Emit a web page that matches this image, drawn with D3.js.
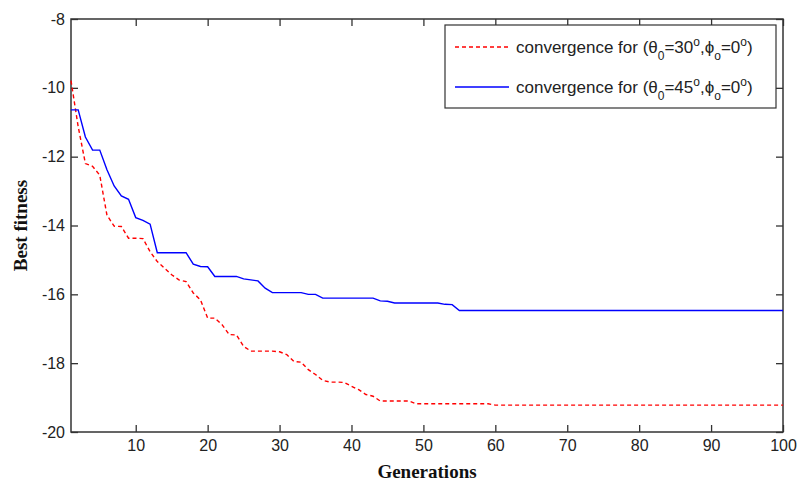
<!DOCTYPE html>
<html>
<head>
<meta charset="utf-8">
<script src="https://cdn.jsdelivr.net/npm/d3@7"></script>
<style>
  body { margin: 0; background: #fff; }
  svg { display: block; }
</style>
</head>
<body>
<svg id="chart" width="798" height="481"></svg>
<script>
// generation index 1..100 (x axis)
var generations = d3.range(1, 101)

// best fitness per generation, theta0 = 30 deg (red dashed)
var fit30 = [
  -9.79, -11.13, -12.20, -12.28, -12.54, -13.70, -14.02, -14.03, -14.37, -14.37,
  -14.38, -14.76, -15.05, -15.24, -15.43, -15.58, -15.63, -15.96, -16.16, -16.69,
  -16.69, -16.88, -17.17, -17.18, -17.51, -17.65, -17.65, -17.65, -17.65, -17.67,
  -17.75, -17.95, -17.97, -18.19, -18.33, -18.50, -18.55, -18.55, -18.56, -18.67,
  -18.77, -18.91, -18.96, -19.10, -19.10, -19.10, -19.10, -19.10, -19.18, -19.18,
  -19.18, -19.18, -19.18, -19.18, -19.18, -19.18, -19.18, -19.18, -19.18, -19.22,
  -19.22, -19.22, -19.22, -19.22, -19.22, -19.22, -19.22, -19.22, -19.22, -19.22,
  -19.22, -19.22, -19.22, -19.22, -19.22, -19.22, -19.22, -19.22, -19.22, -19.22,
  -19.22, -19.22, -19.22, -19.22, -19.22, -19.22, -19.22, -19.22, -19.22, -19.22,
  -19.22, -19.22, -19.22, -19.22, -19.22, -19.22, -19.22, -19.22, -19.22, -19.22
]

// best fitness per generation, theta0 = 45 deg (blue solid)
var fit45 = [
  -10.64, -10.64, -11.43, -11.81, -11.81, -12.38, -12.85, -13.14, -13.24, -13.77,
  -13.85, -13.96, -14.79, -14.79, -14.79, -14.79, -14.79, -15.12, -15.19, -15.20,
  -15.48, -15.48, -15.48, -15.48, -15.55, -15.58, -15.61, -15.82, -15.95, -15.95,
  -15.95, -15.95, -15.95, -16.00, -16.00, -16.11, -16.11, -16.11, -16.11, -16.11,
  -16.11, -16.11, -16.11, -16.19, -16.20, -16.25, -16.25, -16.25, -16.25, -16.25,
  -16.25, -16.25, -16.29, -16.30, -16.47, -16.47, -16.47, -16.47, -16.47, -16.47,
  -16.47, -16.47, -16.47, -16.47, -16.47, -16.47, -16.47, -16.47, -16.47, -16.47,
  -16.47, -16.47, -16.47, -16.47, -16.47, -16.47, -16.47, -16.47, -16.47, -16.47,
  -16.47, -16.47, -16.47, -16.47, -16.47, -16.47, -16.47, -16.47, -16.47, -16.47,
  -16.47, -16.47, -16.47, -16.47, -16.47, -16.47, -16.47, -16.47, -16.47, -16.47
]

var xTicks = [10, 20, 30, 40, 50, 60, 70, 80, 90, 100]
var yTicks = [-20, -18, -16, -14, -12, -10, -8]

var legendLabels = [
  {theta: "30", phi: "0", color: "#ff0000", dash: "4,3"},
  {theta: "45", phi: "0", color: "#0000ff", dash: null}
]

var svg = d3.select('#chart')
//plot box in px (note: 'top' is a reserved window global, so use a prefix)
var pL = 71, pR = 783, pT = 19, pB = 432
var axisColor = '#333'
var sans = '"Liberation Sans", Arial, sans-serif'
var serif = '"Liberation Serif", "Times New Roman", serif'

var x = d3.scaleLinear().domain([1, 100]).range([pL, pR])
var y = d3.scaleLinear().domain([-20, -8]).range([pB, pT])
var plain = function(d) { return String(d) } //ascii hyphen like matlab, not U+2212

svg.append('rect').attr('width', 798).attr('height', 481).attr('fill', '#fff')

//MATLAB style box: inward ticks on all four sides, labels only bottom/left
function styleAxis(g, labels) {
  g.select('.domain').remove()
  g.selectAll('.tick line').attr('stroke', axisColor).attr('stroke-width', 1.3)
  g.selectAll('.tick text')
    .attr('fill', '#222')
    .style('font-family', sans)
    .style('font-size', '16px')
  if (!labels) g.selectAll('.tick text').remove()
}

svg.append('g').attr('transform', 'translate(0,' + pB + ')')
  .call(d3.axisBottom(x).tickValues(xTicks).tickFormat(plain)
    .tickSizeInner(-7).tickSizeOuter(0).tickPadding(8))
  .call(styleAxis, true)
svg.append('g').attr('transform', 'translate(0,' + pT + ')')
  .call(d3.axisTop(x).tickValues(xTicks).tickSizeInner(-7).tickSizeOuter(0))
  .call(styleAxis, false)
svg.append('g').attr('transform', 'translate(' + pL + ',0)')
  .call(d3.axisLeft(y).tickValues(yTicks).tickFormat(plain)
    .tickSizeInner(-7).tickSizeOuter(0).tickPadding(6))
  .call(styleAxis, true)
svg.append('g').attr('transform', 'translate(' + pR + ',0)')
  .call(d3.axisRight(y).tickValues(yTicks).tickSizeInner(-7).tickSizeOuter(0))
  .call(styleAxis, false)

svg.append('rect')
  .attr('x', pL).attr('y', pT)
  .attr('width', pR - pL).attr('height', pB - pT)
  .attr('fill', 'none').attr('stroke', axisColor).attr('stroke-width', 1.5)

var line = d3.line()
  .x(function(d, i) { return x(generations[i]) })
  .y(function(d) { return y(d) })

svg.append('path').datum(fit30)
  .attr('d', line).attr('fill', 'none')
  .attr('stroke', '#ff0000').attr('stroke-width', 1.4)
  .attr('stroke-dasharray', '4,3')
svg.append('path').datum(fit45)
  .attr('d', line).attr('fill', 'none')
  .attr('stroke', '#0000ff').attr('stroke-width', 1.4)

// axis titles
svg.append('text')
  .attr('x', (pL + pR) / 2).attr('y', 478)
  .attr('text-anchor', 'middle')
  .style('font-family', serif).style('font-size', '19px').style('font-weight', 'bold')
  .attr('fill', '#111')
  .text('Generations')
svg.append('text')
  .attr('transform', 'translate(27,' + (pT + pB) / 2 + ') rotate(-90)')
  .attr('text-anchor', 'middle')
  .style('font-family', serif).style('font-size', '19px').style('font-weight', 'bold')
  .attr('fill', '#111')
  .text('Best fitness')

// legend
var lg = svg.append('g')
lg.append('rect')
  .attr('x', 445).attr('y', 25).attr('width', 331).attr('height', 83)
  .attr('fill', '#fff').attr('stroke', axisColor).attr('stroke-width', 1.2)

legendLabels.forEach(function(l, i) {
  var ly = 47 + i * 40
  lg.append('line')
    .attr('x1', 455).attr('x2', 509).attr('y1', ly).attr('y2', ly)
    .attr('stroke', l.color).attr('stroke-width', 1.4)
    .attr('stroke-dasharray', l.dash)
  var t = lg.append('text')
    .attr('x', 516).attr('y', ly + 6)
    .attr('fill', '#222')
    .style('font-family', sans).style('font-size', '17px')
  t.append('tspan').text('convergence for (\u03b8')
  t.append('tspan').attr('dy', 7).style('font-size', '12px').text('0')
  t.append('tspan').attr('dy', -7).text('=' + l.theta)
  t.append('tspan').attr('dy', -7).style('font-size', '12px').text('o')
  t.append('tspan').attr('dy', 7).text(',\u03d5')
  t.append('tspan').attr('dy', 7).style('font-size', '12px').text('o')
  t.append('tspan').attr('dy', -7).text('=' + l.phi)
  t.append('tspan').attr('dy', -7).style('font-size', '12px').text('o')
  t.append('tspan').attr('dy', 7).text(')')
})
</script>
</body>
</html>
